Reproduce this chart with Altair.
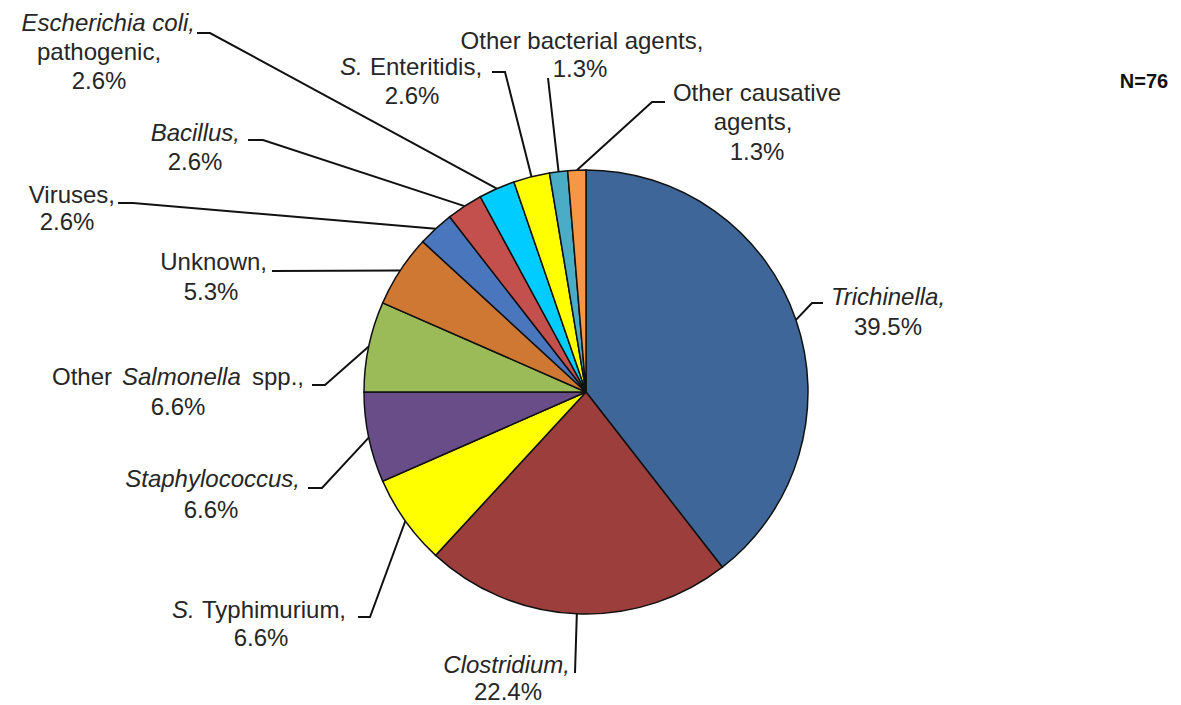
import math
import altair as alt
import pandas as pd

# ---------------- data ----------------
categories = [
    "Trichinella", "Clostridium", "S. Typhimurium", "Staphylococcus",
    "Other Salmonella spp.", "Unknown", "Viruses", "Bacillus",
    "Escherichia coli, pathogenic", "S. Enteritidis",
    "Other bacterial agents", "Other causative agents",
]
outbreaks = [30, 17, 5, 5, 5, 4, 2, 2, 2, 2, 1, 1]
percent_labels = ["39.5%", "22.4%", "6.6%", "6.6%", "6.6%", "5.3%",
                  "2.6%", "2.6%", "2.6%", "2.6%", "1.3%", "1.3%"]
total_label = "N=76"

# label text pieces: (category index, text, italic)
label_texts = [
    (0, "Trichinella,", True), (0, percent_labels[0], False),
    (1, "Clostridium,", True), (1, percent_labels[1], False),
    (2, "S.", True), (2, "Typhimurium,", False), (2, percent_labels[2], False),
    (3, "Staphylococcus,", True), (3, percent_labels[3], False),
    (4, "Other", False), (4, "Salmonella", True), (4, "spp.,", False), (4, percent_labels[4], False),
    (5, "Unknown,", False), (5, percent_labels[5], False),
    (6, "Viruses,", False), (6, percent_labels[6], False),
    (7, "Bacillus,", True), (7, percent_labels[7], False),
    (8, "Escherichia coli,", True), (8, "pathogenic,", False), (8, percent_labels[8], False),
    (9, "S.", True), (9, "Enteritidis,", False), (9, percent_labels[9], False),
    (10, "Other bacterial agents,", False), (10, percent_labels[10], False),
    (11, "Other causative", False), (11, "agents,", False), (11, percent_labels[11], False),
]

# ---------------- styling / layout ----------------
colors = ["#3F6699", "#9B3E3C", "#FFFF00", "#684D89", "#9BBB59", "#CF7833",
          "#4A76BD", "#C4504E", "#00CCFF", "#FFFF00", "#4BACC6", "#F79646"]
FONT = "Liberation Sans"
FS = 24
TEXT_COLOR = "#262626"
W, H = 1165, 689
OFF = 8  # page margin
CX, CY, R = 586 - OFF, 392 - OFF, 222

# label anchor positions (page px): x, baseline y, align
label_layout = [
    (888, 305, "center"), (888, 335, "center"),
    (570, 673, "right"), (508, 700, "center"),
    (172, 618, "left"), (202, 618, "left"), (261, 646, "center"),
    (300, 487, "right"), (211, 518, "center"),
    (52, 385, "left"), (122, 385, "left"), (252, 385, "left"), (178, 415, "center"),
    (267, 270, "right"), (211, 300, "center"),
    (115, 203, "right"), (67, 230, "center"),
    (240, 141, "right"), (195, 170, "center"),
    (195, 31, "right"), (99, 60, "center"), (99, 89, "center"),
    (340, 75, "left"), (370, 75, "left"), (412, 104, "center"),
    (582, 49, "center"), (580, 77, "center"),
    (757, 101, "center"), (753, 130, "center"), (757, 160, "center"),
]
# leader-line bend points (page px), the pie end is computed from the data
leader_layout = {
    0: [(823, 303), (812, 303)],
    1: [(575, 673)],
    2: [(358, 617), (370, 617)],
    3: [(308, 488), (322, 488)],
    4: [(312, 385), (325, 385)],
    5: [(272, 271)],
    6: [(118, 203), (133, 203)],
    7: [(248, 140), (263, 140)],
    8: [(197, 33), (210, 33)],
    9: [(492, 72), (505, 72)],
    10: [(548, 78)],
    11: [(665, 102), (652, 102)],
}

# ---------------- tables ----------------
pie_df = pd.DataFrame({
    "category": categories,
    "outbreaks": outbreaks,
    "idx": list(range(len(categories))),
})

total = sum(outbreaks)
mid_angles = []
cum = 0
for v in outbreaks:
    mid_angles.append((cum + v / 2) / total * 2 * math.pi)
    cum += v

rows = []
for i, pts in leader_layout.items():
    step = 0
    for (px, py) in pts:
        rows.append({"cat": i, "step": step, "x": px - OFF, "y": py - OFF})
        step += 1
    a = mid_angles[i]
    rows.append({"cat": i, "step": step,
                 "x": CX + R * math.sin(a), "y": CY - R * math.cos(a)})
lead_df = pd.DataFrame(rows)

trows = []
for (ci, txt, it), (lx, ly, al) in zip(label_texts, label_layout):
    trows.append({"cat": ci, "text": txt, "italic": it,
                  "x": lx - OFF, "y": ly - OFF, "align": al})
text_df = pd.DataFrame(trows)

# ---------------- chart ----------------
xs = alt.X("x:Q", scale=None, axis=None)
ys = alt.Y("y:Q", scale=None, axis=None)

leaders = alt.Chart(lead_df).mark_line(color="#111111", strokeWidth=2).encode(
    x=xs, y=ys, detail="cat:N", order="step:Q"
)

pie = alt.Chart(pie_df).mark_arc(radius=R, stroke="#111111", strokeWidth=1.5).encode(
    theta=alt.Theta("outbreaks:Q", stack=True),
    color=alt.Color("category:N", scale=alt.Scale(domain=categories, range=colors), legend=None),
    order=alt.Order("idx:Q"),
    x=alt.value(CX),
    y=alt.value(CY),
)

layers = [leaders, pie]
for it in (False, True):
    for al in ("left", "center", "right"):
        sub = text_df[(text_df["italic"] == it) & (text_df["align"] == al)]
        if len(sub) == 0:
            continue
        layers.append(
            alt.Chart(sub).mark_text(
                font=FONT, fontSize=FS, fontStyle="italic" if it else "normal",
                align=al, baseline="alphabetic", color=TEXT_COLOR,
            ).encode(x=xs, y=ys, text="text:N")
        )

n_df = pd.DataFrame({"text": [total_label], "x": [1144 - OFF], "y": [88 - OFF]})
layers.append(
    alt.Chart(n_df).mark_text(
        font=FONT, fontSize=20, fontWeight="bold", align="center",
        baseline="alphabetic", color="#111111",
    ).encode(x=xs, y=ys, text="text:N")
)

chart = alt.layer(*layers).properties(
    width=W, height=H, padding=0, background="white"
).configure_view(stroke=None)

chart.save("out.html", embed_options={"renderer": "svg", "actions": False})
